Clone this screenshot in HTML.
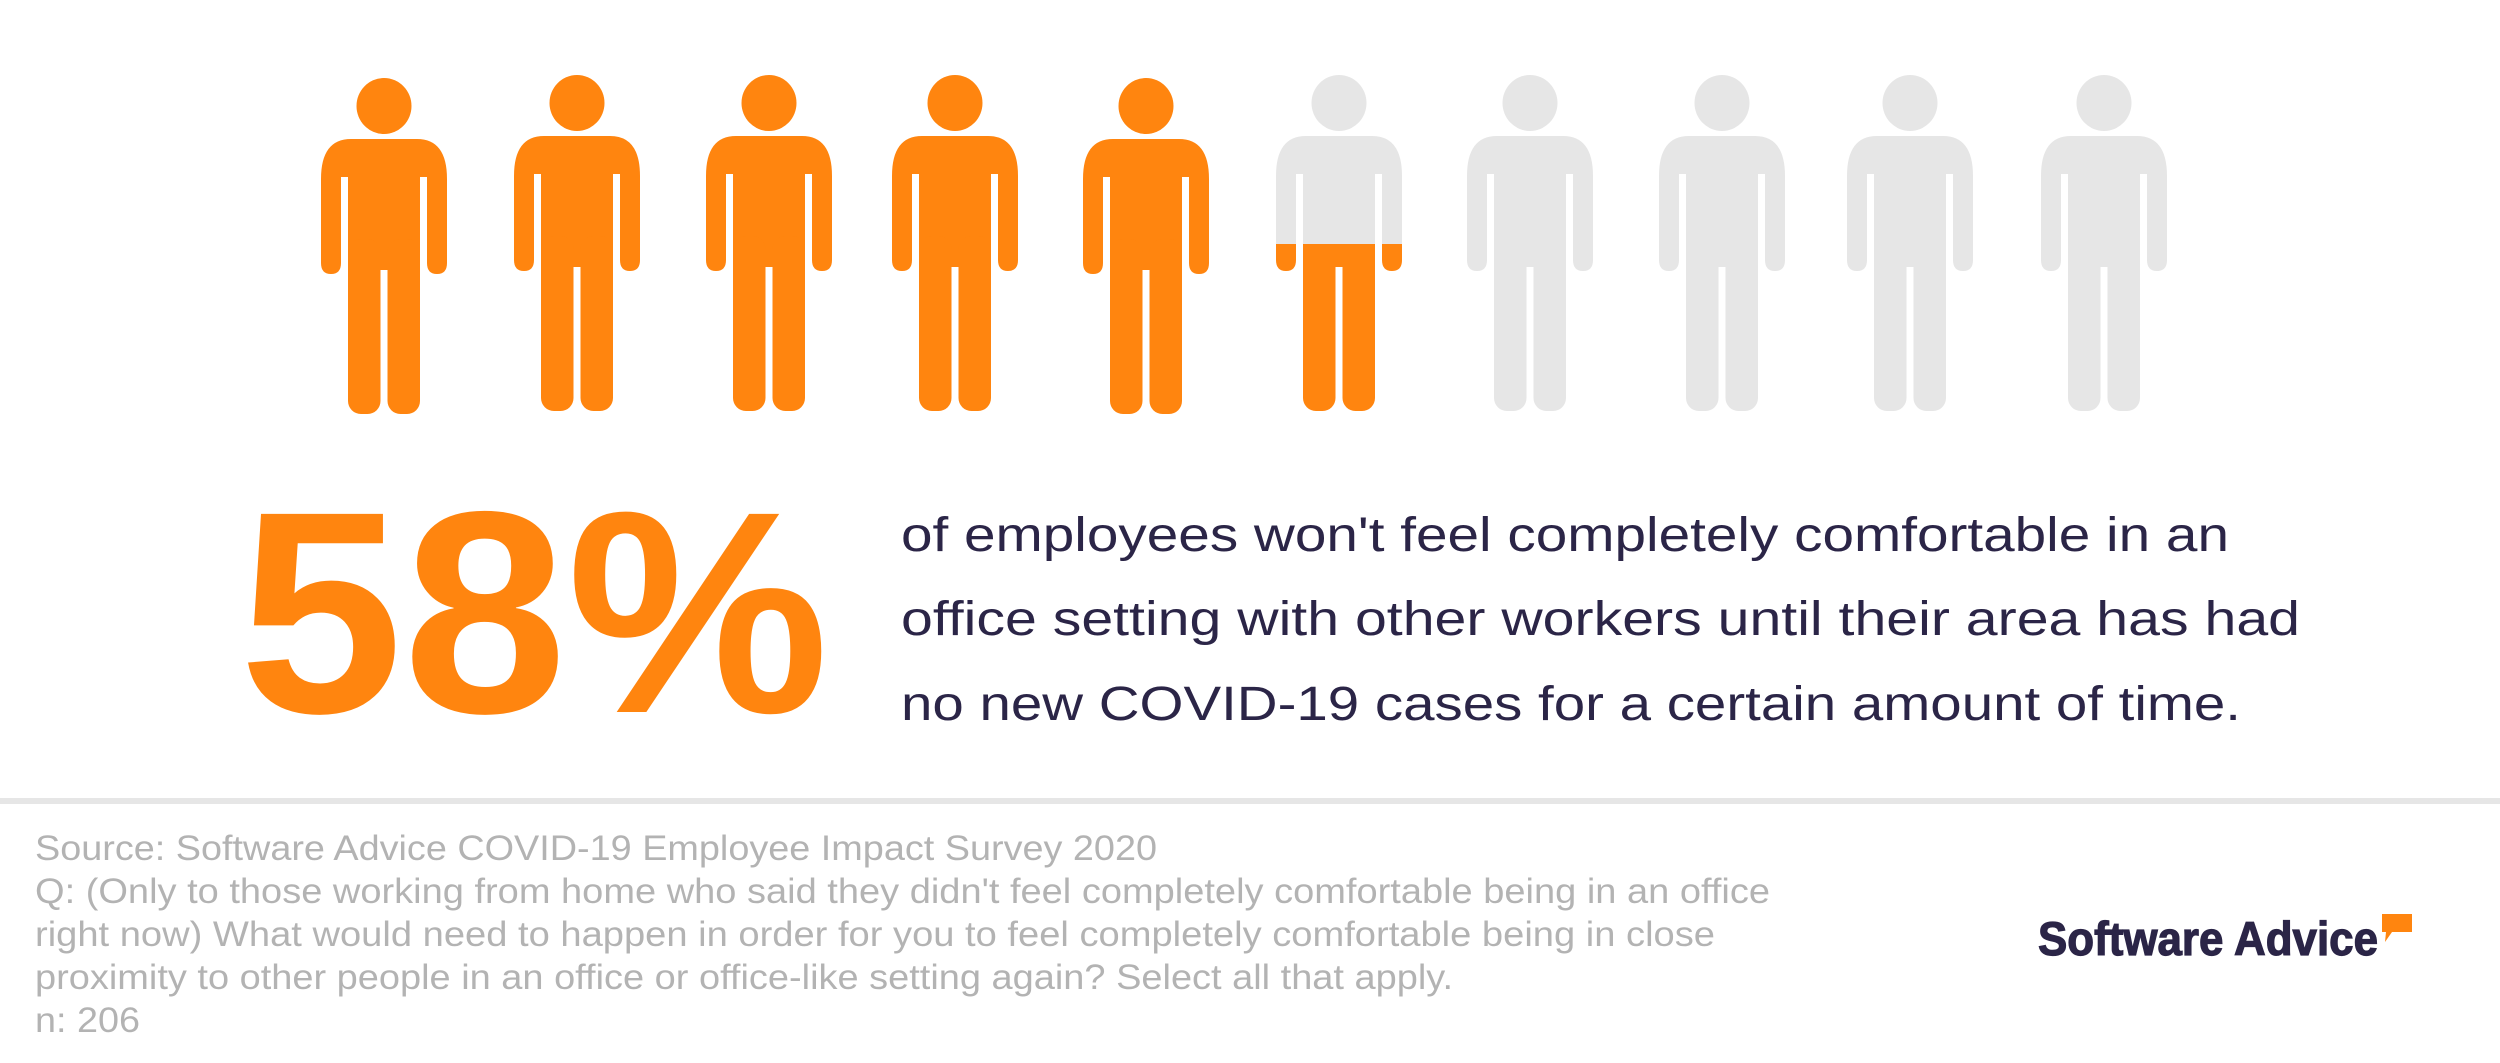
<!DOCTYPE html>
<html><head><meta charset="utf-8"><style>html,body{margin:0;padding:0;background:#fff}svg{display:block}</style></head>
<body>
<svg width="2500" height="1063" viewBox="0 0 2500 1063" xmlns="http://www.w3.org/2000/svg" font-family="Liberation Sans, sans-serif">
<defs>
<g id="fig2">
  <ellipse cx="0" cy="-33" rx="27.5" ry="28"/>
  <path d="M-63,40 Q-63,0 -33,0 L33,0 Q63,0 63,40 L63,124 Q63,135 53,135 Q43,135 43,124 L43,38 L36,38 L36,131 L-36,131 L-36,38 L-43,38 L-43,124 Q-43,135 -53,135 Q-63,135 -63,124 Z"/>
  <rect x="-36" y="100" width="32.5" height="175" rx="13" ry="13"/>
  <rect x="3.5" y="100" width="32.5" height="175" rx="13" ry="13"/>
</g>
</defs>
<g fill="#ff850f">
  <use href="#fig2" x="384" y="139"/>
  <use href="#fig2" x="577" y="136"/>
  <use href="#fig2" x="769" y="136"/>
  <use href="#fig2" x="955" y="136"/>
  <use href="#fig2" x="1146" y="139"/>
</g>
<clipPath id="top"><rect x="0" y="0" width="2500" height="244"/></clipPath>
<clipPath id="bot"><rect x="0" y="244" width="2500" height="300"/></clipPath>
<g fill="#e6e6e6" clip-path="url(#top)"><use href="#fig2" x="1339" y="136"/></g>
<g fill="#ff850f" clip-path="url(#bot)"><use href="#fig2" x="1339" y="136"/></g>
<g fill="#e6e6e6">
  <use href="#fig2" x="1530" y="136"/>
  <use href="#fig2" x="1722" y="136"/>
  <use href="#fig2" x="1910" y="136"/>
  <use href="#fig2" x="2104" y="136"/>
</g>

<text x="239" y="712" font-size="288" font-weight="bold" fill="#ff850f" textLength="590" lengthAdjust="spacingAndGlyphs">58%</text>

<g fill="#2b2547" font-size="48">
  <text x="901" y="551" textLength="1328" lengthAdjust="spacingAndGlyphs">of employees won't feel completely comfortable in an</text>
  <text x="901" y="635" textLength="1399" lengthAdjust="spacingAndGlyphs">office setting with other workers until their area has had</text>
  <text x="901" y="720" textLength="1340" lengthAdjust="spacingAndGlyphs">no new COVID-19 cases for a certain amount of time.</text>
</g>

<rect x="0" y="798" width="2500" height="6" fill="#e6e6e6"/>

<g fill="#b3b3b3" font-size="35">
  <text x="35" y="860" textLength="1122" lengthAdjust="spacingAndGlyphs">Source: Software Advice COVID-19 Employee Impact Survey 2020</text>
  <text x="35" y="903" textLength="1735" lengthAdjust="spacingAndGlyphs">Q: (Only to those working from home who said they didn't feel completely comfortable being in an office</text>
  <text x="35" y="946" textLength="1680" lengthAdjust="spacingAndGlyphs">right now) What would need to happen in order for you to feel completely comfortable being in close</text>
  <text x="35" y="989" textLength="1418" lengthAdjust="spacingAndGlyphs">proximity to other people in an office or office-like setting again? Select all that apply.</text>
  <text x="35" y="1032" textLength="105" lengthAdjust="spacingAndGlyphs">n: 206</text>
</g>

<text x="2038" y="955" font-size="47" font-weight="bold" fill="#2b2547" stroke="#2b2547" stroke-width="1.2" textLength="340" lengthAdjust="spacingAndGlyphs">Software Advice</text>
<path d="M2382,914 L2412,914 L2412,932 L2392,932 L2385,942 L2386,932 L2382,932 Z" fill="#ff850f"/>
</svg>
</body></html>
